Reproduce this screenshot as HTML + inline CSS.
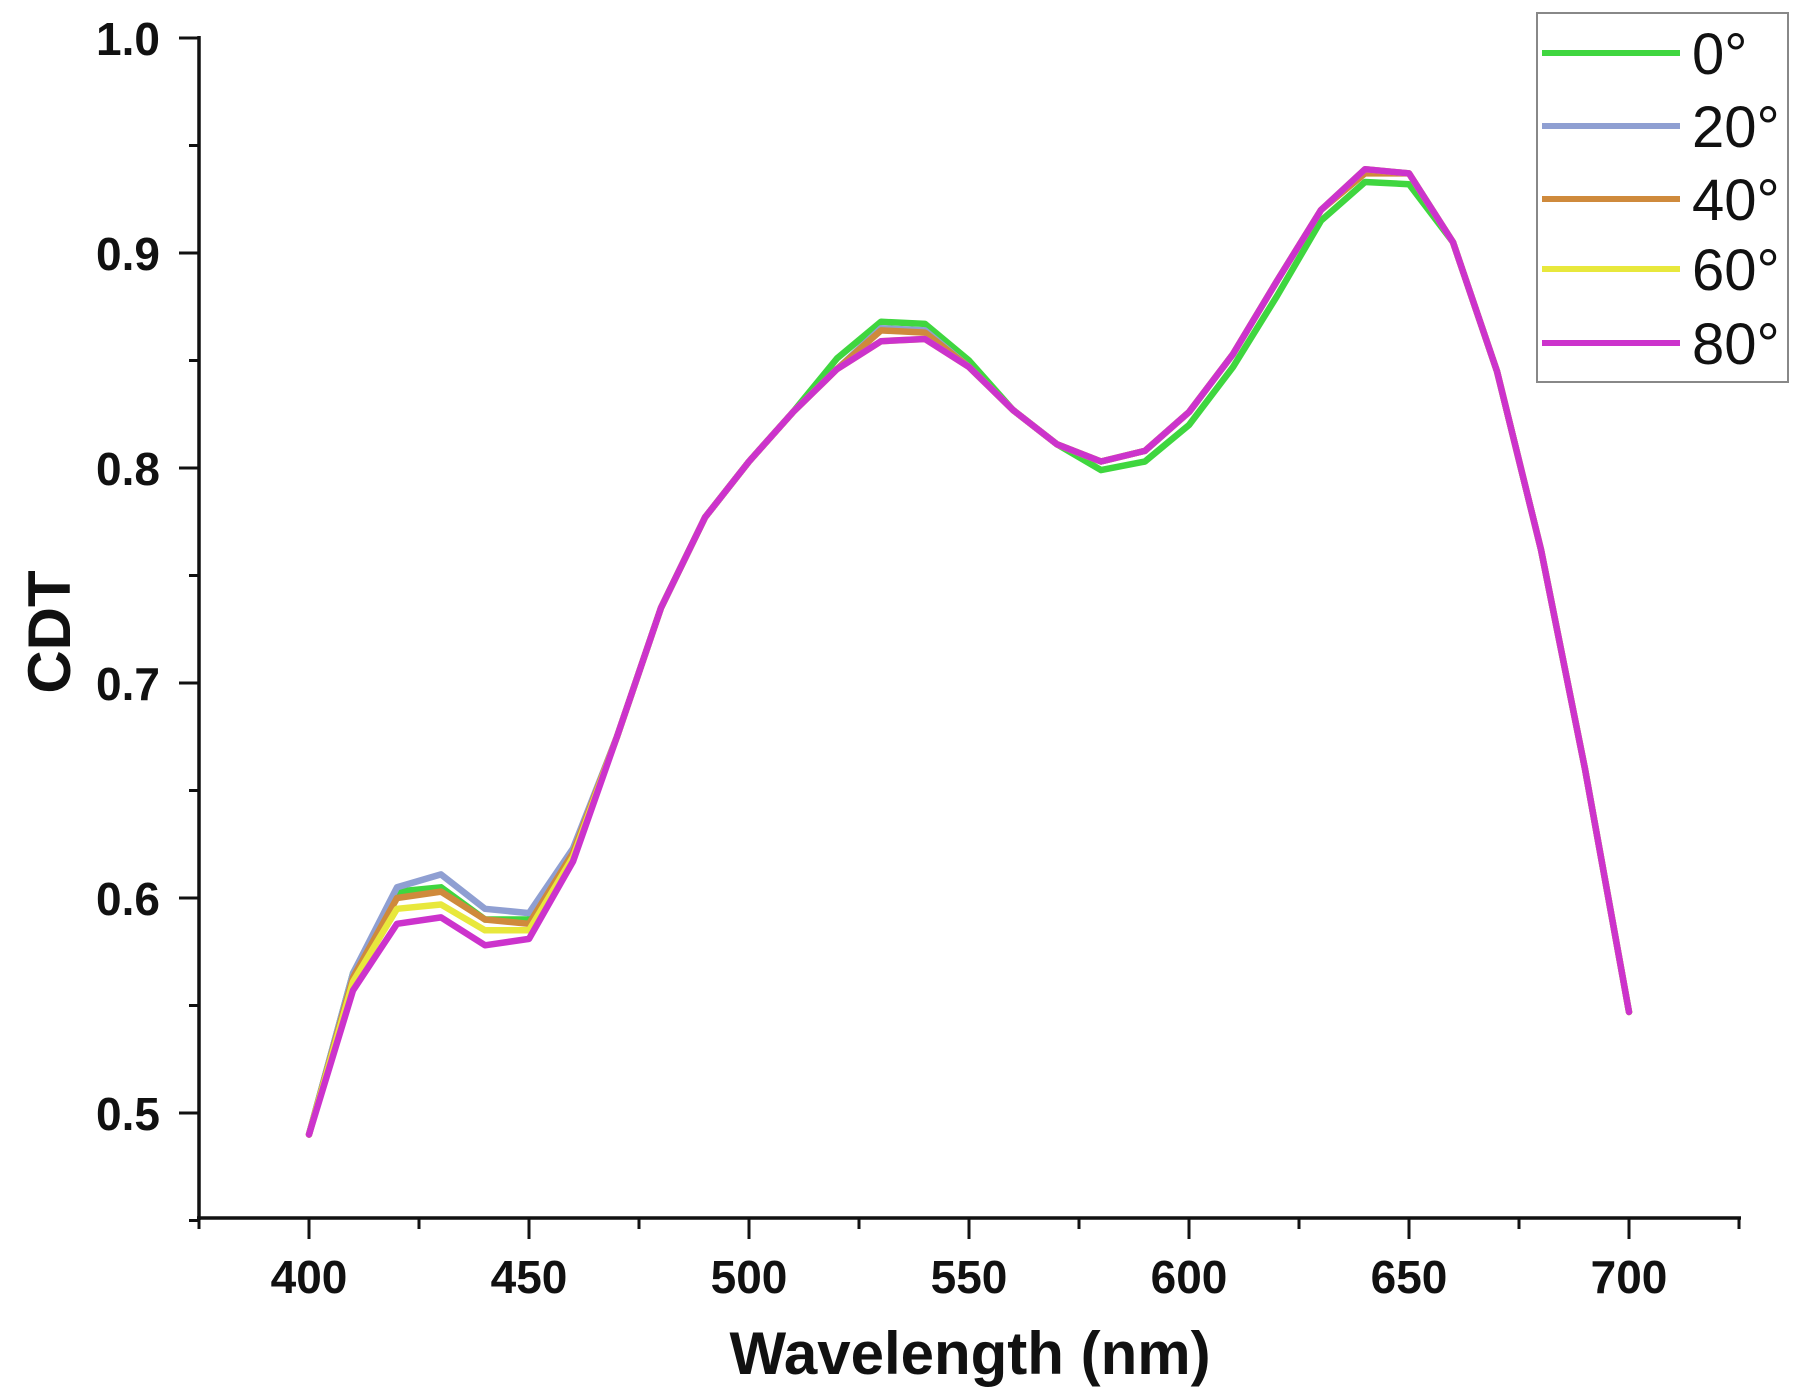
<!DOCTYPE html>
<html><head><meta charset="utf-8"><style>
html,body{margin:0;padding:0;background:#fff;width:1815px;height:1399px;overflow:hidden}
svg{display:block}
text{font-family:"Liberation Sans",Arial,sans-serif}
</style></head><body>
<svg id="s" width="1815" height="1399" viewBox="0 0 1815 1399" xmlns="http://www.w3.org/2000/svg">
<g id="series" fill="none" stroke-width="6.5" stroke-linejoin="round" stroke-linecap="round"></g>
<g stroke="#111" stroke-width="3.5" fill="none">
<line x1="199" y1="36" x2="199" y2="1220"/>
<line x1="197" y1="1218" x2="1741" y2="1218"/>
</g>
<g id="ticks" stroke="#111" stroke-width="3"></g>
<g font-weight="bold" font-size="46" fill="#111" text-anchor="end">
<text x="160" y="55">1.0</text>
<text x="160" y="270">0.9</text>
<text x="160" y="485">0.8</text>
<text x="160" y="700">0.7</text>
<text x="160" y="915">0.6</text>
<text x="160" y="1130">0.5</text>
</g>
<g font-weight="bold" font-size="46" fill="#111" text-anchor="middle">
<text x="309" y="1293">400</text>
<text x="529" y="1293">450</text>
<text x="749" y="1293">500</text>
<text x="969" y="1293">550</text>
<text x="1189" y="1293">600</text>
<text x="1409" y="1293">650</text>
<text x="1629" y="1293">700</text>
</g>
<text x="970" y="1374" font-weight="bold" font-size="60" fill="#111" text-anchor="middle">Wavelength (nm)</text>
<text transform="translate(70,632) rotate(-90)" font-weight="bold" font-size="60" fill="#111" text-anchor="middle">CDT</text>
<rect x="1537" y="13" width="251" height="369" fill="#fff" stroke="#888" stroke-width="2"/>
<g stroke-width="6">
<line x1="1542" y1="53" x2="1680" y2="53" stroke="#3fd63f"/>
<line x1="1542" y1="126" x2="1680" y2="126" stroke="#8f9fd2"/>
<line x1="1542" y1="199" x2="1680" y2="199" stroke="#cf8a3c"/>
<line x1="1542" y1="269" x2="1680" y2="269" stroke="#e8e83c"/>
<line x1="1542" y1="343" x2="1680" y2="343" stroke="#cc33cc"/>
</g>
<g font-size="58" fill="#111">
<text x="1692" y="74">0°</text>
<text x="1692" y="147">20°</text>
<text x="1692" y="220">40°</text>
<text x="1692" y="290">60°</text>
<text x="1692" y="364">80°</text>
</g>
</svg>
<script>
var X=function(w){return 309+(w-400)*4.4;};
var Y=function(v){return 38+(1-v)*2150;};
var base=[0.49,0.557,0.588,0.591,0.578,0.581,0.617,0.675,0.735,0.777,0.803,0.826,0.846,0.859,0.860,0.847,0.827,0.811,0.803,0.808,0.826,0.853,0.887,0.920,0.939,0.937,0.905,0.845,0.762,0.66,0.547];
function mk(over){var a=base.slice();for(var k in over)a[k]=over[k];return a;}
var S=[
["#3fd63f",mk({1:0.565,2:0.603,3:0.605,4:0.59,5:0.59,6:0.622,12:0.851,13:0.868,14:0.867,15:0.850,18:0.799,19:0.803,20:0.820,21:0.847,22:0.880,23:0.915,24:0.933,25:0.932})],
["#8f9fd2",mk({1:0.565,2:0.605,3:0.611,4:0.595,5:0.593,6:0.623,13:0.865,14:0.864})],
["#cf8a3c",mk({1:0.563,2:0.600,3:0.603,4:0.59,5:0.588,6:0.621,13:0.864,14:0.863,24:0.937})],
["#e8e83c",mk({1:0.561,2:0.595,3:0.597,4:0.585,5:0.585,6:0.619})],
["#cc33cc",base]
];
var g=document.getElementById('series'),ns="http://www.w3.org/2000/svg";
S.forEach(function(s){var p=document.createElementNS(ns,'polyline');
p.setAttribute('points',s[1].map(function(v,i){return X(400+10*i).toFixed(1)+','+Y(v).toFixed(1);}).join(' '));
p.setAttribute('stroke',s[0]);g.appendChild(p);});
var t=document.getElementById('ticks'),h='';
for(var w=375;w<=725;w+=25){var x=X(w),L=(w%50==0)?21:11;h+='<line x1="'+x+'" y1="1218" x2="'+x+'" y2="'+(1218+L)+'"/>';}
for(var i=0;i<=11;i++){var v=1-i*0.05,y=Y(v),L=(i%2==0)?20:10;h+='<line x1="'+(199-L)+'" y1="'+y+'" x2="199" y2="'+y+'"/>';}
t.innerHTML=h;
</script>
</body></html>
